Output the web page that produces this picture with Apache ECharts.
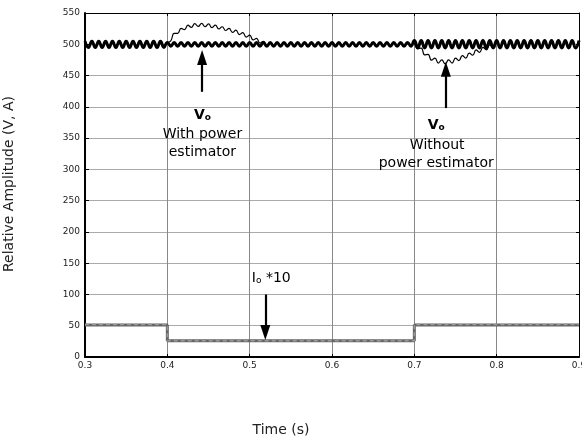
<!DOCTYPE html>
<html><head><meta charset="utf-8">
<script src="https://cdn.jsdelivr.net/npm/echarts@6/dist/echarts.min.js"></script>
<style>html,body{margin:0;padding:0;background:#fff}#c{width:582px;height:439px}</style>
</head><body><div id="c"></div>
<script>
// sampling of the voltage traces (one sample per ripple extremum)
const sampleStart = 0.3;
const sampleStep = 1 / 240;

// Vo with power estimator (thick trace), k = 0..144
const voWith = [
  505,495,505,495,505,495,505,495,505,495,505,495,
  505,495,505,495,505,495,505,495,505,495,505,495,
  503,497,503,497,503,497,503,497,503,497,503,497,
  503,497,503,497,503,497,503,497,503,497,503,497,
  503,497,503,497,503,497,503,497,503,497,503,497,
  503,497,503,497,503,497,503,497,503,497,503,497,
  503,497,503,497,503,497,503,497,503,497,503,497,
  503,497,503,497,503,497,503,497,503,497,503,497,
  506,494,506,494,506,494,506,494,506,494,506,494,
  506,494,506,494,506,494,506,494,506,494,506,494,
  506,494,506,494,506,494,506,494,506,494,506,494,
  506,494,506,494,506,494,506,494,506,494,506,494,
  506
];

// Vo without power estimator (thin trace) where it departs from the thick one
const voWithoutRiseStart = 24;
const voWithoutRise = [
  503,505.5,517.5,517.5,525.5,523.5,530.5,527,533,528.5,533.5,528,
  532.5,526.5,530.5,524.5,528,522,525.5,519,522.5,515.5,518.5,511.5,
  514.5,507,509.5,502,504.5,498,503
];
const voWithoutDipStart = 96;
const voWithoutDip = [
  504,493,494,483,484,474.5,478,470,475,468.5,475,470,
  478,474,482,478,486,482.5,491,487,495,491,499,494.5,
  502,496
];

// Io*10 traces
const currentTimes = [0.3, 0.4, 0.4, 0.7, 0.7, 0.9];
const currentSolid = [51, 51, 26, 26, 51, 51];
const currentDashed = [52, 52, 26, 26, 52, 52];

// axis ranges
const xMin = 0.3, xMax = 0.9, xStep = 0.1;
const yMin = 0, yMax = 550, yStep = 50;

// annotations (data coordinates; arrow end = centre of the arrow head)
const arrowWith = [[0.4422, 424], [0.4422, 479]];
const arrowWithout = [[0.7383, 398], [0.7383, 460]];
const arrowCurrent = [[0.519, 100], [0.519, 39]];
const textWith = [[0.4426, 387, 'vo'], [0.4426, 356.4, 'With power'], [0.4426, 326.5, 'estimator']];
const textWithout = [[0.7266, 370.8, 'vo'], [0.7278, 338.8, 'Without'], [0.7266, 310, 'power estimator']];
const textCurrent = [[0.5263, 126, 'io']];

const toSeries = (start, vals) => vals.map((v, i) => [sampleStart + (start + i) * sampleStep, v]);

const FONT = 'DejaVu Sans';
const rich = {
  vb: {fontFamily: FONT, fontSize: 14, fontWeight: 'bold', color: '#000'},
  vs: {fontFamily: FONT, fontSize: 9, fontWeight: 'bold', color: '#000', padding: [6, 0, 0, 0]},
  ib: {fontFamily: FONT, fontSize: 14, color: '#000'},
  is: {fontFamily: FONT, fontSize: 9, color: '#000', padding: [5, 0, 0, 0]},
  t: {fontFamily: FONT, fontSize: 14, color: '#000'}
};
function fmtLabel(key) {
  if (key === 'vo') return '{vb|V}{vs|o}';
  if (key === 'io') return '{ib|I}{is|o}{ib| *10}';
  return '{t|' + key + '}';
}
const labelPoints = textWith.concat(textWithout, textCurrent).map(p => ({
  coord: [p[0], p[1]], value: p[2],
  label: {show: true, position: 'inside', formatter: fmtLabel(p[2]), rich: rich}
}));
const arrowLines = [arrowWith, arrowWithout, arrowCurrent].map(a => [{coord: a[0]}, {coord: a[1]}]);

const chart = echarts.init(document.getElementById('c'), null, {renderer: 'canvas'});
chart.setOption({
  animation: false,
  backgroundColor: '#fff',
  grid: {left: 85, right: 3, top: 13, bottom: 82, containLabel: false, outerBoundsMode: 'none'},
  xAxis: [{
    type: 'value', min: xMin, max: xMax, interval: xStep, position: 'bottom',
    axisLine: {show: true, onZero: false, lineStyle: {color: '#000', width: 2}},
    axisTick: {show: true, inside: true, length: 3, lineStyle: {color: '#000'}},
    axisLabel: {formatter: v => v.toFixed(1), fontSize: 9, fontFamily: FONT, color: '#222', margin: 4, showMaxLabel: true, showMinLabel: true, hideOverlap: false},
    splitLine: {show: true, lineStyle: {color: '#888', width: 1}}
  }, {
    type: 'value', min: xMin, max: xMax, interval: xStep, position: 'top',
    axisLine: {show: true, onZero: false, lineStyle: {color: '#000', width: 1}},
    axisTick: {show: true, inside: true, length: 3, lineStyle: {color: '#000'}},
    axisLabel: {show: false}, splitLine: {show: false}
  }],
  yAxis: [{
    type: 'value', min: yMin, max: yMax, interval: yStep, position: 'left',
    axisLine: {show: true, onZero: false, lineStyle: {color: '#000', width: 2}},
    axisTick: {show: true, inside: true, length: 4, lineStyle: {color: '#000'}},
    axisLabel: {fontSize: 9, fontFamily: FONT, color: '#222', margin: 5},
    splitLine: {show: true, lineStyle: {color: '#aaa', width: 1}}
  }, {
    type: 'value', min: yMin, max: yMax, interval: yStep, position: 'right',
    axisLine: {show: true, onZero: false, lineStyle: {color: '#000', width: 1}},
    axisTick: {show: true, inside: true, length: 3, lineStyle: {color: '#000'}},
    axisLabel: {show: false}, splitLine: {show: false}
  }],
  series: [{
    name: 'Io*10', type: 'line', showSymbol: false, symbol: 'none',
    data: currentTimes.map((t, i) => [t, currentSolid[i]]),
    lineStyle: {color: '#666', width: 3}
  }, {
    name: 'Io*10 b', type: 'line', showSymbol: false, symbol: 'none',
    data: currentTimes.map((t, i) => [t, currentDashed[i]]),
    lineStyle: {color: '#999', width: 1.5, type: [4, 3]}
  }, {
    name: 'Vo with', type: 'line', showSymbol: false, symbol: 'none', smooth: true,
    data: toSeries(0, voWith),
    lineStyle: {color: '#000', width: 3}
  }, {
    name: 'Vo without', type: 'line', showSymbol: false, symbol: 'none', smooth: true,
    data: toSeries(voWithoutRiseStart, voWithoutRise),
    lineStyle: {color: '#000', width: 1.2}
  }, {
    name: 'Vo without', type: 'line', showSymbol: false, symbol: 'none', smooth: true,
    data: toSeries(voWithoutDipStart, voWithoutDip),
    lineStyle: {color: '#000', width: 1.2},
    markLine: {
      silent: true, symbol: ['none', 'triangle'], symbolSize: [10, 15],
      lineStyle: {color: '#000', width: 2.2, type: 'solid'},
      itemStyle: {color: '#000'},
      label: {show: false}, data: arrowLines
    },
    markPoint: {
      silent: true, symbol: 'circle', symbolSize: 1,
      itemStyle: {color: 'rgba(0,0,0,0)'},
      data: labelPoints
    }
  }],
  graphic: [{
    type: 'text', x: 9, y: 184, rotation: Math.PI / 2,
    style: {text: 'Relative Amplitude (V, A)', font: '14px "DejaVu Sans"', fill: '#222', align: 'center', verticalAlign: 'middle'}
  }, {
    type: 'text', x: 281, y: 430,
    style: {text: 'Time (s)', font: '14px "DejaVu Sans"', fill: '#222', align: 'center', verticalAlign: 'middle'}
  }]
});
</script></body></html>
